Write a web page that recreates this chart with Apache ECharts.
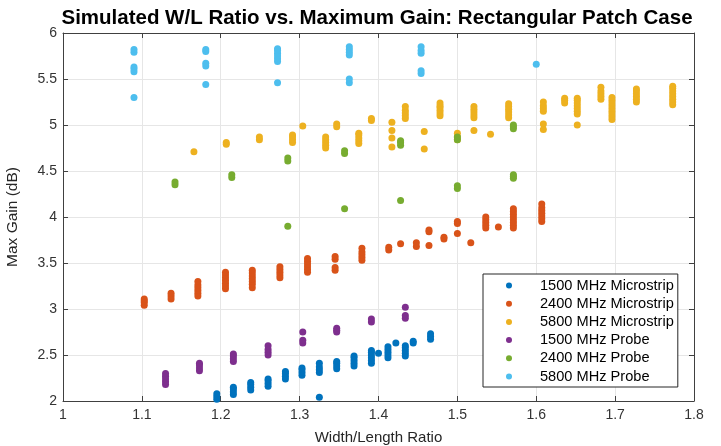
<!DOCTYPE html>
<html>
<head>
<meta charset="utf-8">
<script src="https://cdn.jsdelivr.net/npm/echarts@6/dist/echarts.min.js"></script>
<style>html,body{margin:0;padding:0;background:#fff;}#chart{width:721px;height:446px;}</style>
</head>
<body>
<div id="chart"></div>
<script>
const seriesNames = ['1500 MHz Microstrip','2400 MHz Microstrip','5800 MHz Microstrip','1500 MHz Probe','2400 MHz Probe','5800 MHz Probe'];
const xTicks = [1,1.1,1.2,1.3,1.4,1.5,1.6,1.7,1.8];
const yTicks = [2,2.5,3,3.5,4,4.5,5,5.5,6];

const mic1500 = [
[1.195,2.02],[1.195,2.05],[1.195,2.08],
[1.216,2.07],[1.216,2.10],[1.216,2.13],[1.216,2.15],
[1.238,2.12],[1.238,2.15],[1.238,2.18],[1.238,2.20],
[1.260,2.16],[1.260,2.19],[1.260,2.22],[1.260,2.24],
[1.282,2.24],[1.282,2.27],[1.282,2.30],[1.282,2.32],
[1.303,2.28],[1.303,2.31],[1.303,2.34],[1.303,2.36],
[1.325,2.31],[1.325,2.34],[1.325,2.37],[1.325,2.41],[1.325,2.04],
[1.347,2.35],[1.347,2.38],[1.347,2.41],[1.347,2.43],
[1.369,2.38],[1.369,2.41],[1.369,2.44],[1.369,2.47],[1.369,2.49],
[1.391,2.41],[1.391,2.44],[1.391,2.47],[1.391,2.50],[1.391,2.53],[1.391,2.55],
[1.400,2.52],
[1.412,2.47],[1.412,2.50],[1.412,2.53],[1.412,2.56],[1.412,2.59],
[1.422,2.63],
[1.434,2.49],[1.434,2.52],[1.434,2.55],[1.434,2.58],[1.434,2.60],
[1.444,2.63],[1.444,2.65],
[1.466,2.67],[1.466,2.70],[1.466,2.73]
];

const mic2400 = [
[1.103,3.04],[1.103,3.07],[1.103,3.09],[1.103,3.11],
[1.137,3.11],[1.137,3.14],[1.137,3.17],
[1.171,3.14],[1.171,3.17],[1.171,3.20],[1.171,3.23],[1.171,3.26],[1.171,3.30],
[1.206,3.22],[1.206,3.25],[1.206,3.28],[1.206,3.31],[1.206,3.34],[1.206,3.37],[1.206,3.40],
[1.240,3.23],[1.240,3.27],[1.240,3.30],[1.240,3.33],[1.240,3.36],[1.240,3.39],[1.240,3.42],
[1.275,3.34],[1.275,3.37],[1.275,3.40],[1.275,3.43],[1.275,3.46],
[1.310,3.40],[1.310,3.43],[1.310,3.46],[1.310,3.49],[1.310,3.52],[1.310,3.55],
[1.345,3.42],[1.345,3.45],[1.345,3.54],[1.345,3.57],
[1.379,3.53],[1.379,3.56],[1.379,3.59],[1.379,3.62],[1.379,3.66],
[1.413,3.64],[1.413,3.67],
[1.428,3.71],
[1.448,3.68],[1.448,3.72],
[1.464,3.84],[1.464,3.86],[1.464,3.69],
[1.483,3.76],[1.483,3.78],
[1.500,3.93],[1.500,3.95],[1.500,3.82],
[1.517,3.72],
[1.536,3.88],[1.536,3.91],[1.536,3.94],[1.536,3.97],[1.536,4.00],
[1.552,3.89],
[1.571,3.88],[1.571,3.91],[1.571,3.94],[1.571,3.97],[1.571,4.00],[1.571,4.03],[1.571,4.06],[1.571,4.09],
[1.607,3.95],[1.607,3.98],[1.607,4.01],[1.607,4.04],[1.607,4.07],[1.607,4.10],[1.607,4.14]
];

const mic5800 = [
[1.166,4.71],
[1.207,4.79],[1.207,4.81],
[1.249,4.84],[1.249,4.87],
[1.291,4.81],[1.291,4.84],[1.291,4.87],[1.291,4.89],
[1.304,4.99],
[1.333,4.75],[1.333,4.78],[1.333,4.81],[1.333,4.84],[1.333,4.87],
[1.347,4.98],[1.347,5.01],
[1.375,4.80],[1.375,4.83],[1.375,4.86],[1.375,4.89],[1.375,4.91],
[1.391,5.05],[1.391,5.07],
[1.417,5.03],[1.417,4.94],[1.417,4.86],[1.417,4.76],
[1.434,5.07],[1.434,5.10],[1.434,5.13],[1.434,5.16],[1.434,5.20],
[1.458,4.93],[1.458,4.74],
[1.478,5.10],[1.478,5.13],[1.478,5.16],[1.478,5.19],[1.478,5.21],[1.478,5.24],
[1.500,4.84],[1.500,4.87],[1.500,4.91],
[1.521,5.08],[1.521,5.11],[1.521,5.14],[1.521,5.17],[1.521,5.20],[1.521,4.94],
[1.542,4.90],
[1.565,5.08],[1.565,5.11],[1.565,5.14],[1.565,5.17],[1.565,5.20],[1.565,5.23],
[1.609,5.15],[1.609,5.18],[1.609,5.21],[1.609,5.25],[1.609,5.01],[1.609,4.95],
[1.636,5.24],[1.636,5.27],[1.636,5.29],
[1.652,5.12],[1.652,5.15],[1.652,5.18],[1.652,5.21],[1.652,5.24],[1.652,5.27],[1.652,5.29],[1.652,5.00],
[1.682,5.28],[1.682,5.31],[1.682,5.34],[1.682,5.37],[1.682,5.41],
[1.696,5.06],[1.696,5.09],[1.696,5.12],[1.696,5.15],[1.696,5.18],[1.696,5.21],[1.696,5.24],[1.696,5.27],[1.696,5.30],
[1.727,5.25],[1.727,5.28],[1.727,5.31],[1.727,5.34],[1.727,5.37],[1.727,5.39],
[1.773,5.22],[1.773,5.25],[1.773,5.28],[1.773,5.31],[1.773,5.34],[1.773,5.37],[1.773,5.40],[1.773,5.42]
];

const probe1500 = [
[1.130,2.18],[1.130,2.21],[1.130,2.24],[1.130,2.27],[1.130,2.30],
[1.173,2.33],[1.173,2.36],[1.173,2.39],[1.173,2.41],
[1.216,2.43],[1.216,2.46],[1.216,2.49],[1.216,2.51],
[1.260,2.50],[1.260,2.53],[1.260,2.56],[1.260,2.60],
[1.304,2.75],[1.304,2.63],[1.304,2.66],
[1.347,2.75],[1.347,2.77],[1.347,2.79],
[1.391,2.86],[1.391,2.89],
[1.434,3.02],[1.434,2.90],[1.434,2.93]
];

const probe2400 = [
[1.142,4.35],[1.142,4.38],
[1.214,4.43],[1.214,4.46],
[1.285,4.61],[1.285,4.64],[1.285,3.90],
[1.357,4.69],[1.357,4.72],[1.357,4.09],
[1.428,4.78],[1.428,4.81],[1.428,4.83],[1.428,4.18],
[1.500,4.84],[1.500,4.87],[1.500,4.31],[1.500,4.34],
[1.571,4.96],[1.571,4.98],[1.571,5.00],[1.571,4.42],[1.571,4.44],[1.571,4.46]
];

const probe5800 = [
[1.090,5.79],[1.090,5.82],[1.090,5.58],[1.090,5.61],[1.090,5.63],[1.090,5.30],
[1.181,5.80],[1.181,5.82],[1.181,5.64],[1.181,5.67],[1.181,5.44],
[1.272,5.69],[1.272,5.72],[1.272,5.75],[1.272,5.78],[1.272,5.81],[1.272,5.83],[1.272,5.46],
[1.363,5.76],[1.363,5.79],[1.363,5.82],[1.363,5.85],[1.363,5.46],[1.363,5.50],
[1.454,5.78],[1.454,5.81],[1.454,5.85],[1.454,5.56],[1.454,5.59],
[1.600,5.66]
];

const seriesData = [mic1500, mic2400, mic5800, probe1500, probe2400, probe5800];
const colors = ['#0072BD','#D95319','#EDB120','#7E2F8E','#77AC30','#4DBEEE'];

const FONT = 'Liberation Sans, Arial, Helvetica, sans-serif';
const axisColor = '#404040';
const labelColor = '#333333';

function fmt(v){ return String(Math.round(v*10)/10); }

const chart = echarts.init(document.getElementById('chart'), null, {renderer:'canvas'});

const baseX = {
  type:'value', min:xTicks[0], max:xTicks[xTicks.length-1], interval:0.1,
  axisLine:{show:true, lineStyle:{color:axisColor, width:1}},
  axisTick:{show:true, inside:true, length:5, lineStyle:{color:axisColor}},
};
const baseY = {
  type:'value', min:yTicks[0], max:yTicks[yTicks.length-1], interval:0.5,
  axisLine:{show:true, lineStyle:{color:axisColor, width:1}},
  axisTick:{show:true, inside:true, length:5, lineStyle:{color:axisColor}},
};

chart.setOption({
  animation:false,
  color: colors,
  textStyle:{fontFamily:FONT},
  title:{
    text:'Simulated W/L Ratio vs. Maximum Gain: Rectangular Patch Case',
    left:372, top:3, textAlign:'center',
    textStyle:{fontFamily:FONT, fontSize:20.5, fontWeight:'bold', color:'#000'}
  },
  grid:{left:63, right:27, top:33, bottom:45, containLabel:false, outerBoundsMode:'none'},
  legend:{
    orient:'vertical', left:483, top:274,
    padding:[4,4,3,23], itemWidth:52, itemHeight:6, itemGap:3.2,
    icon:'circle',
    borderColor:'#262626', borderWidth:1, backgroundColor:'#ffffff',
    textStyle:{fontFamily:FONT, fontSize:14.6, color:'#000', lineHeight:15},
    data: seriesNames
  },
  xAxis:[
    Object.assign({}, baseX, {
      position:'bottom',
      name:'Width/Length Ratio', nameLocation:'middle', nameGap:29,
      nameTextStyle:{fontFamily:FONT, fontSize:15, color:'#262626'},
      axisLabel:{show:true, margin:7, fontFamily:FONT, fontSize:14, color:labelColor, formatter:fmt},
      splitLine:{show:true, lineStyle:{color:'#e6e6e6', width:1}}
    }),
    Object.assign({}, baseX, {
      position:'top', axisLabel:{show:false}, splitLine:{show:false}
    })
  ],
  yAxis:[
    Object.assign({}, baseY, {
      position:'left',
      name:'Max Gain (dB)', nameLocation:'middle', nameGap:42,
      nameTextStyle:{fontFamily:FONT, fontSize:15.5, color:'#262626'},
      axisLabel:{show:true, margin:6, fontFamily:FONT, fontSize:14, color:labelColor, formatter:fmt},
      splitLine:{show:true, lineStyle:{color:'#e6e6e6', width:1}}
    }),
    Object.assign({}, baseY, {
      position:'right', axisLabel:{show:false}, splitLine:{show:false}
    })
  ],
  series: seriesNames.map((n,i)=>({
    name:n, type:'scatter', xAxisIndex:0, yAxisIndex:0,
    symbol:'circle', symbolSize:7,
    itemStyle:{color:colors[i], opacity:1},
    emphasis:{disabled:true},
    data: seriesData[i],
    z: 2+i
  }))
});
</script>
</body>
</html>
